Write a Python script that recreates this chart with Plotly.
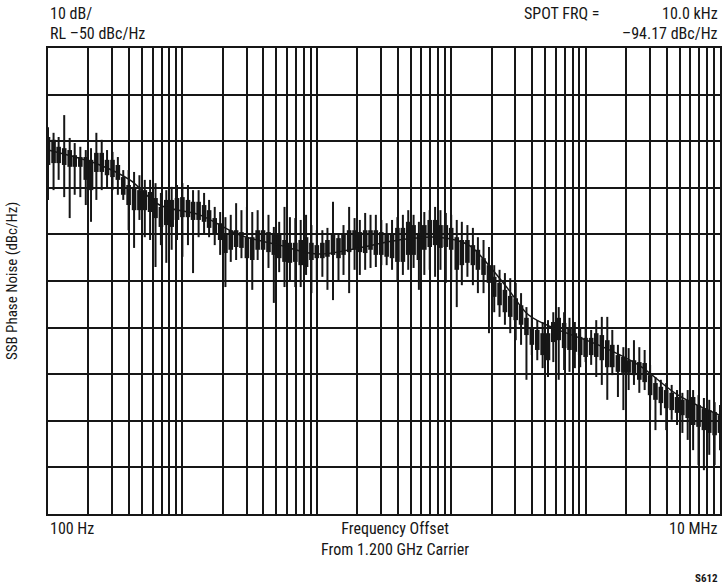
import math
import plotly.graph_objects as go

# Frequency offset (Hz) of each analyzer column
freq_hz = [
    100, 110, 120, 132, 145, 158, 174, 191, 209, 229, 251, 275, 302, 331, 363, 398, 437, 479, 525, 575, 631, 692, 759, 832, 912,
    1000, 1100, 1200, 1320, 1450, 1580, 1740, 1910, 2090, 2290, 2510, 2750, 3020, 3310, 3630, 3980, 4370, 4790, 5250, 5750, 6310, 6920, 7590, 8320, 9120,
    10000, 11000, 12000, 13200, 14500, 15800, 17400, 19100, 20900, 22900, 25100, 27500, 30200, 33100, 36300, 39800, 43700, 47900, 52500, 57500, 63100, 69200, 75900, 83200, 91200,
    100000, 110000, 120000, 132000, 145000, 158000, 174000, 191000, 209000, 229000, 251000, 275000, 302000, 331000, 363000, 398000, 437000, 479000, 525000, 575000, 631000, 692000, 759000, 832000, 912000,
    1000000, 1100000, 1200000, 1320000, 1450000, 1580000, 1740000, 1910000, 2090000, 2290000, 2510000, 2750000, 3020000, 3310000, 3630000, 3980000, 4370000, 4790000, 5250000, 5750000, 6310000, 6920000, 7590000, 8320000, 9120000,
    10000000,
]

# Noise spike peaks (dBc/Hz)
spike_top = [
    -67.0, -68.2, -69.1, -64.4, -69.3, -70.4, -71.2, -71.9, -71.5, -68.2, -69.7, -71.9, -72.3, -73.4, -76.2, -76.2, -76.6, -77.3, -78.3, -78.3, -79.0, -81.1, -80.5, -79.8, -79.4,
    -79.0, -79.4, -80.5, -80.5, -81.1, -82.6, -84.1, -85.2, -86.3, -85.8, -83.3, -84.8, -84.1, -85.2, -84.8, -85.4, -85.8, -88.4, -87.3, -84.1, -86.3, -86.5, -86.9, -85.8, -88.0,
    -89.1, -89.1, -88.6, -83.0, -89.7, -88.0, -84.1, -86.5, -86.9, -85.4, -85.8, -85.8, -86.9, -87.6, -86.9, -86.3, -85.8, -84.8, -85.8, -87.3, -85.2, -84.8, -84.1, -84.8, -85.4,
    -85.8, -86.9, -87.3, -88.0, -88.6, -90.6, -91.2, -92.7, -96.6, -97.6, -98.3, -99.4, -100.4, -102.6, -105.6, -107.3, -108.4, -108.8, -108.4, -106.7, -105.6, -106.7, -107.9, -108.8, -109.9,
    -109.9, -110.5, -108.4, -107.7, -107.7, -110.5, -113.7, -114.2, -114.4, -112.7, -114.2, -114.8, -118.0, -120.6, -121.2, -121.9, -122.3, -123.4, -124.0, -123.4, -123.4, -124.5, -125.1, -125.5, -126.0,
    -126.6,
]

# Dense band upper edge (dBc/Hz)
band_hi = [
    -69.1, -69.7, -71.2, -71.5, -71.9, -73.0, -73.4, -73.4, -74.0, -72.5, -72.5, -74.0, -74.0, -75.1, -77.7, -79.4, -79.8, -80.5, -80.5, -80.9, -82.2, -84.1, -82.6, -82.6, -82.2,
    -82.0, -82.6, -83.0, -83.0, -83.7, -84.8, -86.5, -87.6, -89.7, -89.1, -89.1, -89.5, -90.6, -90.6, -89.1, -89.1, -89.5, -89.7, -90.1, -91.2, -91.8, -91.8, -91.2, -90.6, -91.8,
    -92.3, -91.8, -91.2, -90.1, -90.8, -90.1, -89.1, -89.1, -89.5, -89.1, -89.1, -89.1, -89.5, -90.1, -90.1, -88.6, -88.6, -87.3, -88.0, -89.7, -88.0, -86.9, -86.9, -88.0, -88.0,
    -88.6, -90.6, -91.2, -91.2, -92.3, -93.3, -95.1, -96.6, -99.1, -100.4, -101.9, -103.2, -103.7, -105.2, -107.9, -110.1, -110.5, -111.2, -111.2, -108.8, -107.9, -109.0, -110.1, -111.2, -112.0,
    -112.2, -112.2, -111.2, -111.6, -112.7, -113.7, -115.9, -116.3, -117.0, -117.0, -117.4, -117.6, -120.2, -121.9, -122.7, -123.4, -124.0, -124.9, -125.5, -125.5, -124.9, -126.6, -127.3, -127.7, -128.1,
    -128.8,
]

# Dense band lower edge (dBc/Hz)
band_lo = [
    -75.1, -74.7, -74.7, -75.1, -75.5, -75.5, -75.5, -78.3, -80.5, -76.6, -76.6, -77.3, -77.7, -78.3, -81.5, -83.7, -84.8, -84.8, -84.8, -85.2, -86.5, -88.4, -88.0, -88.4, -86.9,
    -86.3, -86.3, -86.9, -86.9, -87.3, -88.6, -90.1, -91.2, -94.0, -93.3, -92.7, -92.9, -95.1, -95.5, -93.3, -93.3, -93.8, -94.4, -95.1, -95.9, -96.1, -95.9, -96.6, -97.0, -95.5,
    -95.1, -95.1, -94.8, -94.4, -95.1, -94.4, -93.8, -93.3, -93.8, -94.0, -93.3, -94.4, -94.4, -94.8, -95.1, -95.9, -95.9, -94.4, -94.4, -95.5, -93.3, -92.7, -92.3, -92.9, -92.7,
    -93.3, -97.6, -96.6, -96.1, -96.6, -97.6, -98.7, -100.4, -103.4, -105.2, -106.7, -107.7, -108.4, -109.4, -111.6, -113.7, -114.8, -115.9, -117.0, -113.1, -112.7, -114.4, -114.8, -115.2, -115.9,
    -116.3, -115.9, -116.3, -117.0, -118.5, -118.5, -119.5, -119.7, -119.7, -120.2, -121.2, -121.7, -124.5, -125.5, -126.2, -127.3, -127.7, -128.3, -128.8, -129.4, -130.9, -131.3, -132.0, -132.6, -133.1,
    -132.6,
]

# Noise spike troughs (dBc/Hz)
spike_bot = [
    -82.6, -80.5, -78.3, -82.0, -86.5, -81.5, -82.0, -83.7, -87.3, -82.6, -80.5, -80.0, -80.5, -81.5, -82.6, -89.1, -92.9, -86.9, -90.6, -91.2, -97.0, -92.3, -96.1, -93.3, -91.2,
    -94.8, -92.3, -98.3, -90.6, -90.1, -90.6, -92.3, -94.4, -101.3, -95.9, -95.5, -95.1, -110.5, -101.9, -95.5, -96.6, -97.2, -104.7, -98.1, -101.3, -99.8, -101.3, -101.3, -98.7, -102.6,
    -99.8, -99.1, -101.9, -104.1, -99.8, -98.7, -102.6, -97.6, -98.7, -97.6, -97.2, -97.0, -96.6, -96.6, -97.6, -99.8, -98.7, -97.6, -97.2, -101.9, -98.7, -97.6, -99.1, -97.6, -100.4,
    -99.8, -105.6, -100.9, -99.1, -100.9, -102.6, -102.6, -111.2, -106.7, -107.7, -109.4, -111.2, -112.7, -113.7, -121.2, -115.9, -117.0, -118.7, -120.6, -117.4, -121.2, -119.1, -119.5, -118.7, -118.5,
    -117.4, -118.0, -120.6, -122.3, -125.5, -120.2, -124.9, -127.7, -123.4, -122.3, -124.0, -123.4, -127.7, -132.0, -128.8, -132.0, -129.8, -130.9, -132.6, -134.1, -136.3, -139.5, -140.6, -137.3, -139.5,
    -136.3,
]

# Averaged (smoothed) trace
avg_freq_hz = [100, 243, 406, 677, 1340, 2660, 5260, 10000, 20600, 40800, 80900, 135000, 190000, 268000, 377000, 628000, 1240000, 2470000, 4880000, 10000000]
avg_dbc = [-71.9, -75.1, -78.3, -83.7, -85.8, -90.1, -92.3, -94.2, -92.9, -91.2, -90.6, -92.3, -96.6, -101.9, -107.3, -110.5, -113.7, -118.0, -124.5, -128.8]

# Axis settings
x_range_hz = [100, 10000000]
y_range_dbc = [-150, -50]
y_step_db = 10

FONT = "Roboto Condensed, Liberation Sans Narrow, Arial Narrow, Liberation Sans, sans-serif"
INK = "#161616"

fig = go.Figure()

# dense band drawn as vertical bars per column
bx, by = [], []
for f, hi, lo in zip(freq_hz, band_hi, band_lo):
    bx += [f, f, None]
    by += [hi, lo, None]
fig.add_trace(go.Scatter(x=bx, y=by, mode="lines", line=dict(width=4.6, color=INK),
                         hoverinfo="skip", showlegend=False))

# spikes
sx, sy = [], []
for f, t, b in zip(freq_hz, spike_top, spike_bot):
    sx += [f, f, None]
    sy += [t, b, None]
fig.add_trace(go.Scatter(x=sx, y=sy, mode="lines", line=dict(width=2, color=INK),
                         hoverinfo="skip", showlegend=False))

# averaged line
fig.add_trace(go.Scatter(x=avg_freq_hz, y=avg_dbc, mode="lines", line=dict(width=1.5, color=INK, shape="spline"),
                         hoverinfo="skip", showlegend=False))

fig.update_xaxes(type="log", range=[math.log10(x_range_hz[0]), math.log10(x_range_hz[1])],
                 dtick="D1", showticklabels=False, ticks="",
                 showgrid=True, gridcolor=INK, gridwidth=2,
                 showline=True, mirror=True, linecolor=INK, linewidth=2, zeroline=False)
fig.update_yaxes(range=y_range_dbc, dtick=y_step_db, showticklabels=False, ticks="",
                 showgrid=True, gridcolor=INK, gridwidth=2,
                 showline=True, mirror=True, linecolor=INK, linewidth=2, zeroline=False)

F16 = dict(size=16, family=FONT, color=INK)
ann = [
    dict(text="10 dB/", x=0, y=1.0, xanchor="left", yanchor="bottom", yshift=23),
    dict(text="RL –50 dBc/Hz", x=0, y=1.0, xanchor="left", yanchor="bottom", yshift=3),
    dict(text="SPOT FRQ =", x=(603 - 48) / 674, y=1.0, xanchor="right", yanchor="bottom", yshift=23),
    dict(text="10.0 kHz", x=1.0, y=1.0, xanchor="right", yanchor="bottom", yshift=23),
    dict(text="–94.17 dBc/Hz", x=1.0, y=1.0, xanchor="right", yanchor="bottom", yshift=3),
    dict(text="100 Hz", x=0, y=0, xanchor="left", yanchor="top", yshift=-3),
    dict(text="10 MHz", x=1.0, y=0, xanchor="right", yanchor="top", yshift=-3),
    dict(text="Frequency Offset<br>From 1.200 GHz Carrier", x=0.516, y=0, xanchor="center", yanchor="top", yshift=-3),
    dict(text="<b>S612</b>", x=1.0, y=0, xanchor="right", yanchor="top", yshift=-56,
         font=dict(size=11, family=FONT, color=INK)),
]
for a in ann:
    a.setdefault("font", F16)
    fig.add_annotation(xref="paper", yref="paper", showarrow=False, **a)

fig.add_annotation(text="SSB Phase Noise (dBc/Hz)", x=-0.0534, y=0.5, xref="paper", yref="paper",
                   textangle=-90, showarrow=False, xanchor="center", yanchor="middle",
                   font=dict(size=15, family=FONT, color=INK))

fig.update_layout(width=722, height=587, margin=dict(l=48, r=0, t=48, b=73),
                  paper_bgcolor="white", plot_bgcolor="white", showlegend=False)

fig.write_html("out.html", config={"displayModeBar": False, "staticPlot": True},
               post_script="document.body.style.margin='0';document.body.style.overflow='hidden';")
